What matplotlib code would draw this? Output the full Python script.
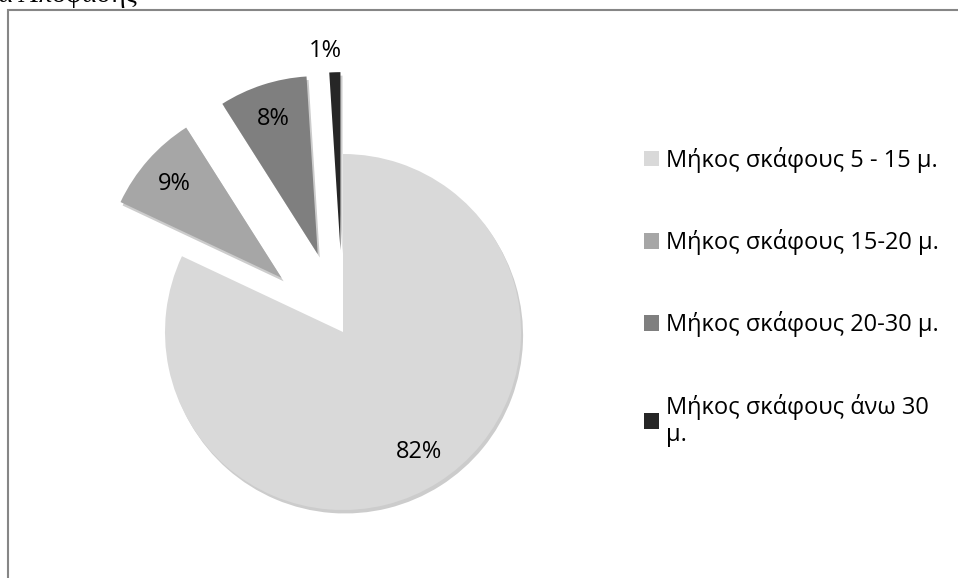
import matplotlib
matplotlib.use('Agg')
import matplotlib.pyplot as plt
import matplotlib.patheffects as pe
from matplotlib.patches import Rectangle
import numpy as np

plt.rcParams['font.family'] = ['Open Sans', 'DejaVu Sans']

# Δεδομένα
categories = ['Μήκος σκάφους 5 - 15 μ.', 'Μήκος σκάφους 15-20 μ.',
              'Μήκος σκάφους 20-30 μ.', 'Μήκος σκάφους άνω 30\nμ.']
shares = [82, 9, 8, 1]
colors = ['#d9d9d9', '#a6a6a6', '#7f7f7f', '#262626']
explode = [0, 0.46, 0.46, 0.46]

W, H = 958, 578
fig = plt.figure(figsize=(W / 100, H / 100), dpi=100)

# Πίτα: κέντρο ~ (343, 332) px από πάνω, ακτίνα ~178 px
R = 178
L = 1.6
S = 2 * L * R
cx, cy = 343, H - 332
ax = fig.add_axes([(cx - S / 2) / W, (cy - S / 2) / H, S / W, S / H])

wedges, texts, autotexts = ax.pie(
    shares, colors=colors, explode=explode, startangle=90, counterclock=False,
    autopct='%1.0f%%', pctdistance=0.8,
    wedgeprops=dict(linewidth=0),
    textprops=dict(fontsize=17, color='black'))

# ετικέτα 1% έξω από τη φέτα
w = wedges[3]
mid = np.deg2rad((w.theta1 + w.theta2) / 2)
autotexts[3].set_position((w.center[0] - 0.05 + 1.12 * np.cos(mid), w.center[1] + 1.12 * np.sin(mid)))

ax.set_xlim(-L, L)
ax.set_ylim(-L, L)
ax.axis('off')

fig.legend(wedges, categories, loc='upper left',
           bbox_to_anchor=(644 / W, 1 - 147 / H), bbox_transform=fig.transFigure,
           frameon=False, fontsize=17, handlelength=0.63, handleheight=0.63,
           handletextpad=0.3, labelspacing=2.38, borderpad=0, borderaxespad=0)

for w in wedges:
    w.set_path_effects([pe.withSimplePatchShadow(offset=(1.5, -2.5), shadow_rgbFace='black', alpha=0.2)])

# πλαίσιο διαγράμματος (κομμένο στα δεξιά/κάτω)
fig.patches.append(Rectangle((8 / W, -0.1), 1.2, 1 - 10 / H + 0.1, transform=fig.transFigure,
                             fill=False, edgecolor='#868686', linewidth=1.5, zorder=0))

# κομμένος τίτλος στο πάνω μέρος
fig.text(-2 / W, 1 - 2.5 / H, 'α Απόφασης', fontsize=20, va='baseline', ha='left',
         family=['Liberation Serif', 'DejaVu Serif'])

fig.savefig('out.png', dpi=100)
